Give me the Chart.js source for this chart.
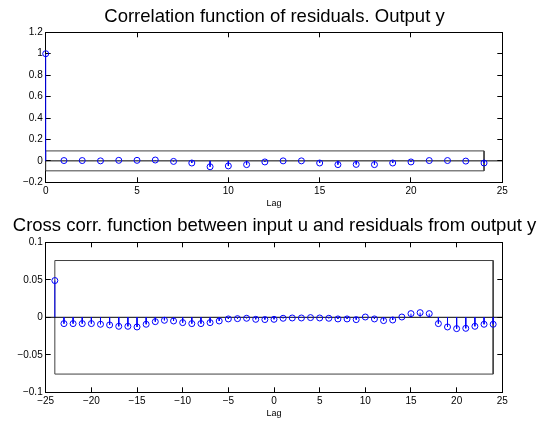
<!DOCTYPE html>
<html>
<head>
<meta charset="utf-8">
<title>Residual analysis</title>
<script src="https://cdn.jsdelivr.net/npm/chart.js@4.4.0/dist/chart.umd.min.js"></script>
<style>
  body { margin: 0; background: #fff; width: 539px; height: 425px; overflow: hidden; position: relative; }
  canvas { position: absolute; left: 0; }
</style>
</head>
<body>
<canvas id="acf" width="539" height="212" style="top:0"></canvas>
<canvas id="ccf" width="539" height="213" style="top:212px"></canvas>
<script>
// autocorrelation of residuals
const autoLags = [0, 1, 2, 3, 4, 5, 6, 7, 8, 9, 10, 11, 12, 13, 14, 15, 16, 17, 18, 19, 20, 21, 22, 23, 24];
const autoValues = [1.0, 0.003, 0.003, 0.0, 0.005, 0.005, 0.008, -0.005, -0.02, -0.055, -0.047, -0.035, -0.01,
    0.0, 0.0, -0.02, -0.035, -0.033, -0.035, -0.02, -0.01, 0.003, 0.003, -0.002, -0.02];
const autoConf = 0.093;
const autoXRange = [0, 25, 5];      // min, max, step
const autoYRange = [-0.2, 1.2, 0.2];

// cross correlation input u / residuals
const crossLags = [-24, -23, -22, -21, -20, -19, -18, -17, -16, -15, -14, -13, -12, -11, -10, -9, -8, -7, -6, -5,
    -4, -3, -2, -1, 0, 1, 2, 3, 4, 5, 6, 7, 8, 9, 10, 11, 12, 13, 14, 15, 16, 17, 18, 19, 20, 21, 22, 23, 24];
const crossValues = [0.049, -0.0084, -0.0084, -0.0084, -0.0084, -0.0093, -0.0102, -0.012, -0.012, -0.0129,
    -0.0093, -0.0058, -0.004, -0.0049, -0.0071, -0.0084, -0.0084, -0.0071, -0.0049, -0.0022, -0.0018, -0.0013,
    -0.0027, -0.003, -0.0027, -0.0013, -0.0009, -0.0009, -0.0004, -0.0009, -0.0013, -0.0022, -0.0022, -0.0031,
    0.0004, -0.0022, -0.0044, -0.0036, 0.0004, 0.0049, 0.0062, 0.0049, -0.0084, -0.0129, -0.0151, -0.0147,
    -0.012, -0.0093, -0.0093];
const crossConf = 0.0757;
const crossXRange = [-25, 25, 5];
const crossYRange = [-0.1, 0.1, 0.05];

const FONT = "'Liberation Sans', Arial, Helvetica, sans-serif";
const BLUE = '#0000ff';

Chart.defaults.font.family = FONT;
Chart.defaults.color = '#000';

function fmt(v) {
    return String(+Number(v).toFixed(3)).replace('-', '\u2212');
}

function stemChart(id, cfg) {
    const lags = cfg.lags, vals = cfg.values;
    const first = lags[0], last = lags[lags.length - 1];

    // stems: one segment per lag, broken with null
    const stems = [];
    lags.forEach((l, i) => {
        stems.push({x: l, y: 0}, {x: l, y: vals[i]}, {x: l, y: null});
    });
    const circles = lags.map((l, i) => ({x: l, y: vals[i]}));
    const band = [
        {x: first, y: cfg.conf}, {x: last, y: cfg.conf},
        {x: last, y: -cfg.conf}, {x: first, y: -cfg.conf}, {x: first, y: cfg.conf}
    ];
    const zero = [{x: cfg.xr[0], y: 0}, {x: cfg.xr[1], y: 0}];

    const lineSet = (data, color, order) => ({
        data: data, borderColor: color, borderWidth: 1, pointRadius: 0,
        spanGaps: false, fill: false, order: order, clip: 2
    });

    const xBase = {
        type: 'linear', min: cfg.xr[0], max: cfg.xr[1],
        grid: {drawOnChartArea: false, tickLength: -5, color: '#000'},
        border: {color: '#000', width: 1}
    };
    const yBase = {
        type: 'linear', min: cfg.yr[0], max: cfg.yr[1],
        grid: {drawOnChartArea: false, tickLength: -5, color: '#000'},
        border: {color: '#000', width: 1}
    };

    return new Chart(document.getElementById(id), {
        type: 'line',
        data: {
            datasets: [
                lineSet(band, '#404040', 4),
                lineSet(zero, '#000', 3),
                lineSet(stems, BLUE, 2),
                {
                    data: circles, showLine: false, order: 1, clip: false,
                    pointStyle: 'circle', pointRadius: 3, pointBorderWidth: 1,
                    pointBorderColor: BLUE, pointBackgroundColor: 'rgba(0,0,0,0)'
                }
            ]
        },
        options: {
            responsive: false,
            animation: false,
            events: [],
            // left padding shifts the title centre over the plot box
            layout: {padding: {left: 10, right: 0, top: 0, bottom: 0}},
            plugins: {
                legend: {display: false},
                tooltip: {enabled: false},
                title: {
                    display: true, text: cfg.title, color: '#000',
                    font: {size: 18.5, weight: 'normal', family: FONT},
                    padding: cfg.titlePad
                }
            },
            scales: {
                x: Object.assign({}, xBase, {
                    position: 'bottom',
                    ticks: {stepSize: cfg.xr[2], autoSkip: false, maxRotation: 0, padding: 8.4,
                        color: '#000', font: {size: 10}, callback: fmt},
                    title: {display: true, text: 'Lag', color: '#000', font: {size: 9},
                        padding: {top: 0, bottom: cfg.lagPad}},
                    afterFit: s => { s.height = cfg.xHeight; }
                }),
                x2: Object.assign({}, xBase, {
                    position: 'top',
                    ticks: {stepSize: cfg.xr[2], display: false},
                    afterFit: s => { s.height = 0; }
                }),
                y: Object.assign({}, yBase, {
                    position: 'left',
                    ticks: {stepSize: cfg.yr[2], autoSkip: false, padding: 8,
                        color: '#000', font: {size: 10}, callback: fmt},
                    afterFit: s => { s.width = 35.7; }
                }),
                y2: Object.assign({}, yBase, {
                    position: 'right',
                    ticks: {stepSize: cfg.yr[2], display: false},
                    afterFit: s => { s.width = 36.7; }
                })
            }
        }
    });
}

stemChart('acf', {
    lags: autoLags, values: autoValues, conf: autoConf,
    xr: autoXRange, yr: autoYRange,
    title: 'Correlation function of residuals. Output y',
    titlePad: {top: 5.6, bottom: 4.5}, xHeight: 29.7, lagPad: 3
});

stemChart('ccf', {
    lags: crossLags, values: crossValues, conf: crossConf,
    xr: crossXRange, yr: crossYRange,
    title: 'Cross corr. function between input u and residuals from output y',
    titlePad: {top: 3.2, bottom: 4.9}, xHeight: 32.7, lagPad: 6.5
});
</script>
</body>
</html>
